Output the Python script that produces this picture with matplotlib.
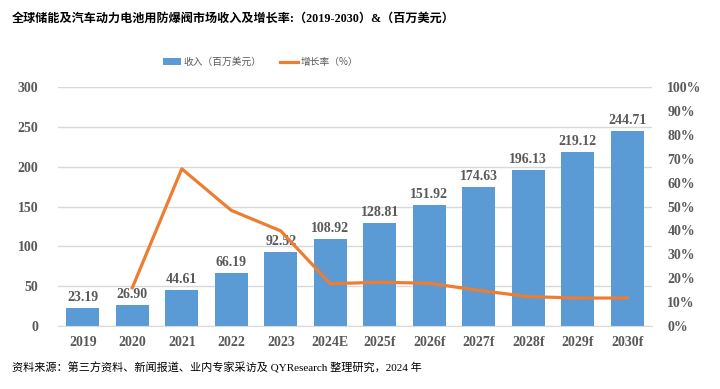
import matplotlib
matplotlib.use("Agg")
import matplotlib.pyplot as plt
from matplotlib.lines import Line2D
from matplotlib.patches import Patch

years = ["2019", "2020", "2021", "2022", "2023", "2024E", "2025f", "2026f",
         "2027f", "2028f", "2029f", "2030f"]
revenue = [23.19, 26.90, 44.61, 66.19, 92.52, 108.92, 128.81, 151.92,
           174.63, 196.13, 219.12, 244.71]
growth_years = years[1:]
growth = [16.0, 65.8, 48.4, 39.8, 17.7, 18.3, 17.9, 14.9, 12.3, 11.7, 11.7]

left_ticks = [0, 50, 100, 150, 200, 250, 300]
right_ticks = [0, 10, 20, 30, 40, 50, 60, 70, 80, 90, 100]

BLUE = "#5B9BD5"
ORANGE = "#ED7D31"
GRAY = "#595959"
CJK = ["Noto Sans CJK SC", "DejaVu Sans"]
NUMF = ["Liberation Serif", "Noto Sans CJK SC"]

fig = plt.figure(figsize=(7.2, 3.89), dpi=100)
ax = fig.add_axes([0.0806, 0.162, 0.825, 0.614])
x = list(range(len(years)))
ax.bar(x, revenue, width=0.67, color=BLUE, zorder=2)
for xi, v in zip(x, revenue):
    ax.text(xi, v + 5, f"{v:.2f}", ha="center", va="bottom", fontsize=10,
            fontweight="bold", color=GRAY, family=NUMF, zorder=4)
ax.set_xlim(-0.5, len(years) - 0.5)
ax.set_ylim(0, 300)
ax.set_yticks(left_ticks)
ax.set_xticks(x)
ax.set_xticklabels(years)
ax.grid(axis="y", color="#D9D9D9", linewidth=1, zorder=0)
ax.set_axisbelow(True)
for s in ["top", "right", "left"]:
    ax.spines[s].set_visible(False)
ax.spines["bottom"].set_color("#D9D9D9")
ax.tick_params(axis="both", length=0, colors=GRAY, labelsize=10)
ax.tick_params(axis="x", pad=7)
ax.tick_params(axis="y", pad=14)
for lab in ax.get_xticklabels() + ax.get_yticklabels():
    lab.set_fontweight("bold")
    lab.set_family(NUMF)

ax2 = ax.twinx()
gx = [years.index(y) for y in growth_years]
ax2.plot(gx, growth, color=ORANGE, linewidth=2.3, zorder=5)
ax2.set_ylim(0, 100)
ax2.set_yticks(right_ticks)
ax2.set_yticklabels([f"{t}%" for t in right_ticks])
for s in ["top", "right", "left", "bottom"]:
    ax2.spines[s].set_visible(False)
ax2.tick_params(axis="y", length=0, colors=GRAY, labelsize=10, pad=11)
for lab in ax2.get_yticklabels():
    lab.set_fontweight("bold")
    lab.set_family(NUMF)

fig.text(0.017, 0.953, "全球储能及汽车动力电池用防爆阀市场收入及增长率:（2019-2030）&（百万美元）",
         fontsize=8.7, fontweight="bold", family=["Liberation Serif", "Noto Sans CJK SC"],
         ha="left", va="center")

handles = [Patch(facecolor=BLUE), Line2D([0], [0], color=ORANGE, linewidth=2.3)]
fig.legend(handles, ["收入（百万美元）", "增长率（%）"], loc="center",
           bbox_to_anchor=(0.362, 0.84), ncol=2, frameon=False,
           prop={"family": CJK, "size": 7.0}, labelcolor=GRAY,
           handlelength=1.85, handleheight=0.7, columnspacing=1.85, handletextpad=0.3)

fig.text(0.017, 0.054, "资料来源：第三方资料、新闻报道、业内专家采访及 QYResearch 整理研究，2024 年",
         fontsize=8.0, family=NUMF, ha="left", va="center", color="black")

fig.savefig("out.png", dpi=100)
